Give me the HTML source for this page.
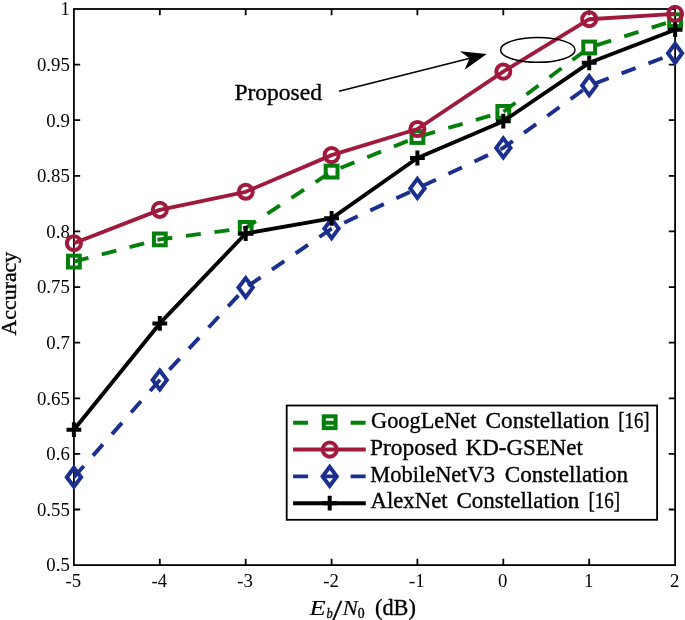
<!DOCTYPE html>
<html><head><meta charset="utf-8"><title>Accuracy vs Eb/N0</title>
<style>
html,body{margin:0;padding:0;background:#fff;overflow:hidden;}
svg{display:block;}
text{font-family:"Liberation Serif",serif;fill:#000;}
.cm{stroke:#000;stroke-width:0.35px;}
</style></head><body>
<svg width="685" height="620" viewBox="0 0 685 620">
<rect width="685" height="620" fill="#fff"/>
<rect x="73.9" y="9.0" width="601.2" height="556.1" fill="none" stroke="#000" stroke-width="1.8"/>
<path d="M159.8 565.1v-6.3M159.8 9.0v6.3M245.7 565.1v-6.3M245.7 9.0v6.3M331.6 565.1v-6.3M331.6 9.0v6.3M417.4 565.1v-6.3M417.4 9.0v6.3M503.3 565.1v-6.3M503.3 9.0v6.3M589.2 565.1v-6.3M589.2 9.0v6.3M73.9 509.5h6.3M675.1 509.5h-6.3M73.9 453.9h6.3M675.1 453.9h-6.3M73.9 398.3h6.3M675.1 398.3h-6.3M73.9 342.7h6.3M675.1 342.7h-6.3M73.9 287.1h6.3M675.1 287.1h-6.3M73.9 231.4h6.3M675.1 231.4h-6.3M73.9 175.8h6.3M675.1 175.8h-6.3M73.9 120.2h6.3M675.1 120.2h-6.3M73.9 64.6h6.3M675.1 64.6h-6.3" stroke="#000" stroke-width="1.8" fill="none"/>
<g font-size="18.8" text-anchor="end">
<text x="69.8" y="571.4">0.5</text>
<text x="69.8" y="515.8">0.55</text>
<text x="69.8" y="460.2">0.6</text>
<text x="69.8" y="404.6">0.65</text>
<text x="69.8" y="349.0">0.7</text>
<text x="69.8" y="293.4">0.75</text>
<text x="69.8" y="237.7">0.8</text>
<text x="69.8" y="182.1">0.85</text>
<text x="69.8" y="126.5">0.9</text>
<text x="69.8" y="70.9">0.95</text>
<text x="69.8" y="15.3">1</text>
</g>
<g font-size="18.8" text-anchor="middle">
<text x="73.4" y="587.0">-5</text>
<text x="159.3" y="587.0">-4</text>
<text x="245.2" y="587.0">-3</text>
<text x="331.1" y="587.0">-2</text>
<text x="416.9" y="587.0">-1</text>
<text x="502.8" y="587.0">0</text>
<text x="588.7" y="587.0">1</text>
<text x="674.6" y="587.0">2</text>
</g>
<text class="cm" transform="translate(15.6 335.4) rotate(-90)" font-size="22" textLength="83.6" lengthAdjust="spacingAndGlyphs">Accuracy</text>
<g class="cm"><text x="309.6" y="614.7" font-size="22" font-style="italic" stroke-width="0.1" textLength="16.2" lengthAdjust="spacingAndGlyphs">E</text><text x="326.6" y="617.5" font-size="14.8" font-style="italic" textLength="6.2" lengthAdjust="spacingAndGlyphs">b</text><text x="332.6" y="619.6" font-size="30" textLength="9.6" lengthAdjust="spacingAndGlyphs">/</text><text x="342.6" y="614.7" font-size="22" font-style="italic" stroke-width="0.15" textLength="15.4" lengthAdjust="spacingAndGlyphs">N</text><text x="357.8" y="617.5" font-size="14.8" textLength="6.9" lengthAdjust="spacingAndGlyphs">0</text><text x="375.0" y="614.7" font-size="22.4" textLength="40.8" lengthAdjust="spacingAndGlyphs">(dB)</text></g>
<polyline points="73.9,261.6 159.8,239.4 245.7,227.9 331.6,171.6 417.4,137.0 503.3,111.9 589.2,47.5 675.1,20.2" fill="none" stroke="#047F0B" stroke-width="3.9" stroke-dasharray="15 13.77"/>
<rect x="68.0" y="255.7" width="11.8" height="11.8" fill="none" stroke="#047F0B" stroke-width="4.0"/>
<rect x="153.9" y="233.5" width="11.8" height="11.8" fill="none" stroke="#047F0B" stroke-width="4.0"/>
<rect x="239.8" y="222.0" width="11.8" height="11.8" fill="none" stroke="#047F0B" stroke-width="4.0"/>
<rect x="325.7" y="165.7" width="11.8" height="11.8" fill="none" stroke="#047F0B" stroke-width="4.0"/>
<rect x="411.5" y="131.1" width="11.8" height="11.8" fill="none" stroke="#047F0B" stroke-width="4.0"/>
<rect x="497.4" y="106.0" width="11.8" height="11.8" fill="none" stroke="#047F0B" stroke-width="4.0"/>
<rect x="583.3" y="41.6" width="11.8" height="11.8" fill="none" stroke="#047F0B" stroke-width="4.0"/>
<rect x="669.2" y="14.3" width="11.8" height="11.8" fill="none" stroke="#047F0B" stroke-width="4.0"/>
<polyline points="73.9,243.2 159.8,209.9 245.7,191.8 331.6,155.1 417.4,129.0 503.3,71.6 589.2,19.2 675.1,13.9" fill="none" stroke="#A11A3E" stroke-width="3.9" stroke-linejoin="round"/>
<circle cx="73.9" cy="243.2" r="7.05" fill="none" stroke="#A11A3E" stroke-width="4.0"/>
<circle cx="159.8" cy="209.9" r="7.05" fill="none" stroke="#A11A3E" stroke-width="4.0"/>
<circle cx="245.7" cy="191.8" r="7.05" fill="none" stroke="#A11A3E" stroke-width="4.0"/>
<circle cx="331.6" cy="155.1" r="7.05" fill="none" stroke="#A11A3E" stroke-width="4.0"/>
<circle cx="417.4" cy="129.0" r="7.05" fill="none" stroke="#A11A3E" stroke-width="4.0"/>
<circle cx="503.3" cy="71.6" r="7.05" fill="none" stroke="#A11A3E" stroke-width="4.0"/>
<circle cx="589.2" cy="19.2" r="7.05" fill="none" stroke="#A11A3E" stroke-width="4.0"/>
<circle cx="675.1" cy="13.9" r="7.05" fill="none" stroke="#A11A3E" stroke-width="4.0"/>
<polyline points="73.9,477.2 159.8,380.0 245.7,287.6 331.6,228.6 417.4,188.4 503.3,147.9 589.2,85.6 675.1,53.3" fill="none" stroke="#1B2F8E" stroke-width="3.9" stroke-dasharray="15 13.77"/>
<path d="M73.9 467.7L81.1 477.2L73.9 486.7L66.8 477.2Z" fill="none" stroke="#1B2F8E" stroke-width="4.0" stroke-linejoin="miter"/>
<path d="M159.8 370.5L166.9 380.0L159.8 389.5L152.6 380.0Z" fill="none" stroke="#1B2F8E" stroke-width="4.0" stroke-linejoin="miter"/>
<path d="M245.7 278.1L252.8 287.6L245.7 297.1L238.5 287.6Z" fill="none" stroke="#1B2F8E" stroke-width="4.0" stroke-linejoin="miter"/>
<path d="M331.6 219.1L338.7 228.6L331.6 238.1L324.4 228.6Z" fill="none" stroke="#1B2F8E" stroke-width="4.0" stroke-linejoin="miter"/>
<path d="M417.4 178.9L424.6 188.4L417.4 197.9L410.3 188.4Z" fill="none" stroke="#1B2F8E" stroke-width="4.0" stroke-linejoin="miter"/>
<path d="M503.3 138.4L510.5 147.9L503.3 157.4L496.2 147.9Z" fill="none" stroke="#1B2F8E" stroke-width="4.0" stroke-linejoin="miter"/>
<path d="M589.2 76.1L596.4 85.6L589.2 95.1L582.1 85.6Z" fill="none" stroke="#1B2F8E" stroke-width="4.0" stroke-linejoin="miter"/>
<path d="M675.1 43.8L682.2 53.3L675.1 62.8L668.0 53.3Z" fill="none" stroke="#1B2F8E" stroke-width="4.0" stroke-linejoin="miter"/>
<polyline points="73.9,429.7 159.8,323.4 245.7,233.5 331.6,218.3 417.4,158.0 503.3,121.2 589.2,62.8 675.1,29.7" fill="none" stroke="#000" stroke-width="3.9" stroke-linejoin="round"/>
<path d="M66.5 429.7h14.8M73.9 422.3v14.8" fill="none" stroke="#000" stroke-width="4.0"/>
<path d="M152.4 323.4h14.8M159.8 316.0v14.8" fill="none" stroke="#000" stroke-width="4.0"/>
<path d="M238.3 233.5h14.8M245.7 226.1v14.8" fill="none" stroke="#000" stroke-width="4.0"/>
<path d="M324.2 218.3h14.8M331.6 210.9v14.8" fill="none" stroke="#000" stroke-width="4.0"/>
<path d="M410.0 158.0h14.8M417.4 150.6v14.8" fill="none" stroke="#000" stroke-width="4.0"/>
<path d="M495.9 121.2h14.8M503.3 113.8v14.8" fill="none" stroke="#000" stroke-width="4.0"/>
<path d="M581.8 62.8h14.8M589.2 55.4v14.8" fill="none" stroke="#000" stroke-width="4.0"/>
<path d="M667.7 29.7h14.8M675.1 22.3v14.8" fill="none" stroke="#000" stroke-width="4.0"/>
<text class="cm" x="234.4" y="100.2" font-size="22.6" textLength="87.6" lengthAdjust="spacingAndGlyphs">Proposed</text>
<ellipse cx="537.8" cy="49.9" rx="37.2" ry="12.4" fill="none" stroke="#000" stroke-width="1.5"/>
<path d="M339 91.2L470 58.2" stroke="#000" stroke-width="1.5" fill="none"/>
<path d="M486.8 54L460 51.3L469.6 58.3L464.6 69.7Z" fill="#000"/>
<rect x="286.7" y="405.5" width="370.4" height="114.3" fill="#fff" stroke="#000" stroke-width="1.8"/>
<path d="M293.1 422.7H365.8" stroke="#047F0B" stroke-width="3.9" stroke-dasharray="15 13.77"/><rect x="323.8" y="416.3" width="11.8" height="11.8" fill="none" stroke="#047F0B" stroke-width="4.0"/>
<path d="M293.1 449.55H365.8" stroke="#A11A3E" stroke-width="3.9"/><circle cx="329.7" cy="449.6" r="7.05" fill="none" stroke="#A11A3E" stroke-width="4.0"/>
<path d="M293.1 476.4H365.8" stroke="#1B2F8E" stroke-width="3.9" stroke-dasharray="15 13.77"/><path d="M329.7 466.9L336.8 476.4L329.7 485.9L322.6 476.4Z" fill="none" stroke="#1B2F8E" stroke-width="4.0" stroke-linejoin="miter"/>
<path d="M293.1 503.2H365.8" stroke="#000" stroke-width="3.9"/><path d="M322.3 503.2h14.8M329.7 495.8v14.8" fill="none" stroke="#000" stroke-width="4.0"/>
<g class="cm" font-size="22.6">
<text x="371.1" y="427.8" textLength="105.3" lengthAdjust="spacingAndGlyphs">GoogLeNet</text>
<text x="485.6" y="427.8" textLength="123.9" lengthAdjust="spacingAndGlyphs">Constellation</text>
<text x="618.2" y="427.8" textLength="31.4" lengthAdjust="spacingAndGlyphs">[16]</text>
<text x="370.0" y="454.7" textLength="87.0" lengthAdjust="spacingAndGlyphs">Proposed</text>
<text x="465.6" y="454.7" textLength="117.3" lengthAdjust="spacingAndGlyphs">KD-GSENet</text>
<text x="370.2" y="481.5" textLength="124.9" lengthAdjust="spacingAndGlyphs">MobileNetV3</text>
<text x="504.8" y="481.5" textLength="123.4" lengthAdjust="spacingAndGlyphs">Constellation</text>
<text x="370.5" y="508.3" textLength="77.1" lengthAdjust="spacingAndGlyphs">AlexNet</text>
<text x="456.4" y="508.3" textLength="123.0" lengthAdjust="spacingAndGlyphs">Constellation</text>
<text x="588.5" y="508.3" textLength="31.7" lengthAdjust="spacingAndGlyphs">[16]</text>
</g>
</svg></body></html>
